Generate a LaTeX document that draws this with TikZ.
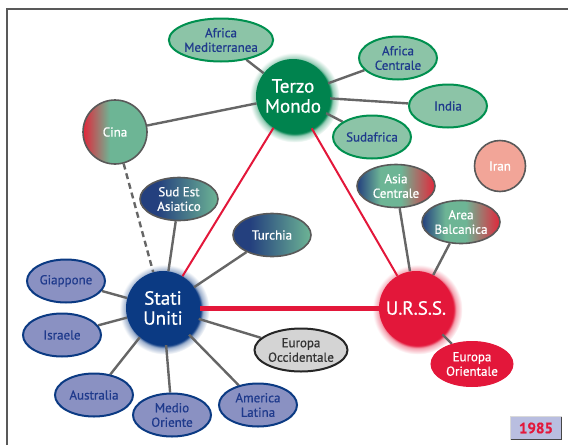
\documentclass[tikz,border=0pt]{standalone}
\usepackage{fontspec}
\setmainfont{PT Sans}[FakeBold=0.7]
\usetikzlibrary{shapes.geometric}
\definecolor{gDark}{HTML}{00834E}
\definecolor{gFill}{HTML}{8CC4A7}
\definecolor{gLine}{HTML}{00904F}
\definecolor{bDark}{HTML}{0B3A83}
\definecolor{bFill}{HTML}{8A91C2}
\definecolor{tBlue}{HTML}{1F3A8C}
\definecolor{rDark}{HTML}{E3173A}
\definecolor{lnk}{HTML}{666666}
\definecolor{iranF}{HTML}{F2A598}
\definecolor{occF}{HTML}{D4D4D4}
\definecolor{yearF}{HTML}{B9BEE0}
\definecolor{shG}{HTML}{6DB595}
\definecolor{shB}{HTML}{24407E}
\definecolor{shR}{HTML}{E3263A}
\pgfdeclarehorizontalshading{cinaSh}{100bp}{color(0bp)=(shR); color(25bp)=(shR); color(46bp)=(shG); color(100bp)=(shG)}
\pgfdeclarehorizontalshading{bgSh}{100bp}{color(0bp)=(shB); color(25bp)=(shB); color(36bp)=(shB); color(75bp)=(shG); color(100bp)=(shG)}
\pgfdeclarehorizontalshading{bgrSh}{100bp}{color(0bp)=(shB); color(25bp)=(shB); color(40bp)=(shG); color(53bp)=(shG); color(75bp)=(shR); color(100bp)=(shR)}
\pgfdeclareradialshading{glowG}{\pgfpoint{0bp}{0bp}}{color(0bp)=(gDark); color(20bp)=(gDark); color(21.5bp)=(gDark!40!white); color(25bp)=(white); color(50bp)=(white)}
\pgfdeclareradialshading{glowB}{\pgfpoint{0bp}{0bp}}{color(0bp)=(bDark); color(20bp)=(bDark); color(21.5bp)=(bDark!40!white); color(25bp)=(white); color(50bp)=(white)}
\pgfdeclareradialshading{glowR}{\pgfpoint{0bp}{0bp}}{color(0bp)=(rDark); color(20bp)=(rDark); color(21.5bp)=(rDark!40!white); color(25bp)=(white); color(50bp)=(white)}
\pgfdeclarelayer{bg}
\pgfsetlayers{bg,main}
\begin{document}
\begin{tikzpicture}[x=1pt,y=-1pt,
  big/.style={circle, minimum size=74pt, inner sep=0pt, text=white, align=center,
    font=\fontsize{19}{20}\selectfont},
  lab/.style={ellipse, minimum width=78pt, minimum height=43pt, inner sep=0pt, align=center,
    font=\fontsize{13}{14.5}\selectfont},
  gE/.style={lab, draw=gLine, line width=2pt, fill=gFill, text=tBlue},
  bE/.style={lab, draw=bDark, line width=2pt, fill=bFill, text=tBlue},
  mixE/.style={lab, draw=gray!70!black, line width=1.6pt, text=white},
  link/.style={draw=lnk, line width=2.4pt},
  redlink/.style={draw=rDark, line width=2pt}]
\useasboundingbox (0,0) rectangle (568,445);
% frame
\draw[gray!70!black, line width=1.2pt] (7,445) -- (7,9) -- (568,9);
% main nodes
\node[big, fill=gDark] (tm) at (293,96) {Terzo\\Mondo};
\node[big, fill=bDark] (su) at (163,308) {Stati\\Uniti};
\node[big, fill=rDark] (ur) at (416,308) {U.R.S.S.};
% satellites
\node[circle, minimum size=64pt, inner sep=0pt, shading=cinaSh, draw=gray!70!black, line width=1.6pt,
  text=white, font=\fontsize{13}{14.5}\selectfont] (cina) at (115,132) {Cina};
\node[gE] (afm) at (221,40) {Africa\\Mediterranea};
\node[gE] (afc) at (398,58) {Africa\\Centrale};
\node[gE] (ind) at (448,106) {India};
\node[gE] (sud) at (372,137) {Sudafrica};
\node[circle, minimum size=51pt, inner sep=0pt, fill=iranF, draw=gray!70!black, line width=1.6pt,
  text=white, font=\fontsize{13}{14.5}\selectfont] (iran) at (500,166) {Iran};
\node[mixE, shading=bgrSh] (asc) at (396,186) {Asia\\Centrale};
\node[mixE, shading=bgrSh] (arb) at (461,222) {Area\\Balcanica};
\node[mixE, shading=bgSh] (sea) at (179,199) {Sud Est\\Asiatico};
\node[mixE, shading=bgSh] (tur) at (272,235) {Turchia};
\node[bE] (gia) at (66,281) {Giappone};
\node[bE] (isr) at (62,335) {Israele};
\node[bE] (aus) at (94,395) {Australia};
\node[bE] (med) at (172,415) {Medio\\Oriente};
\node[bE] (aml) at (258,405) {America\\Latina};
\node[lab, fill=occF, draw=black!85, line width=2pt, text=black!80] (eoc) at (301,350) {Europa\\Occidentale};
\node[lab, fill=rDark, draw=rDark, line width=1pt, text=white, minimum width=82pt, minimum height=45pt] (eor) at (472,364) {Europa\\Orientale};
\node[rectangle, minimum width=51pt, minimum height=23pt, inner sep=0pt, fill=yearF, text=rDark,
  font=\bfseries\fontsize{15}{16}\selectfont] (year) at (536,428) {1985};
\draw[gray!55!black, line width=1.4pt] (year.north east) -- (year.south east) -- (year.south west);
\draw[gray!30, line width=0.8pt] (year.south west) -- (year.north west) -- (year.north east);
% background: glows and connectors
\begin{pgfonlayer}{bg}
\shade[shading=glowG] ([shift={(1.5,1.5)}]tm.center) circle (45pt);
\shade[shading=glowB] ([shift={(1.5,1.5)}]su.center) circle (45pt);
\shade[shading=glowR] ([shift={(1.5,1.5)}]ur.center) circle (45pt);
\draw[link] (tm) -- (afm);
\draw[link] (tm) -- (afc);
\draw[link] (tm) -- (ind);
\draw[link] (tm) -- (sud);
\draw[link] (tm) -- (cina);
\draw[link, dash pattern=on 6pt off 4pt] (cina) -- (su);
\draw[link] (su) -- (sea);
\draw[link] (su) -- (tur);
\draw[link] (su) -- (gia);
\draw[link] (su) -- (isr);
\draw[link] (su) -- (aus);
\draw[link] (su) -- (med);
\draw[link] (su) -- (aml);
\draw[link] (su) -- (eoc);
\draw[link] (ur) -- (asc);
\draw[link] (ur) -- (arb);
\draw[link] (ur) -- (eor);
\draw[redlink] (tm) -- (su);
\draw[redlink] (tm) -- (ur);
\draw[redlink, line width=5pt] (su) -- (ur);
\end{pgfonlayer}
\end{tikzpicture}
\end{document}
